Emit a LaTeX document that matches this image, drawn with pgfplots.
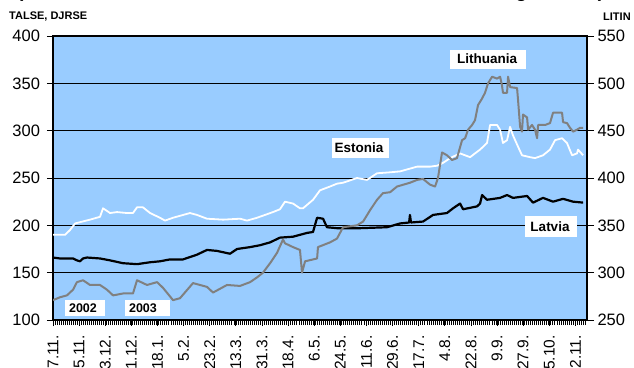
\documentclass[border=0pt]{standalone}
\usepackage{pgfplots}
\pgfplotsset{compat=1.18}
\usepackage{fontspec}
\setmainfont{Liberation Sans}

\definecolor{bg}{RGB}{153,204,255}
\definecolor{ltgray}{RGB}{128,128,128}

% Estonia (TALSE) and Latvia (DJRSE), left scale
\pgfplotstableread{
d v
0 190
8.3 190
11.7 195
15.2 202
25.5 206
32.4 209
34.5 218
39.3 213
44.1 214
51 213
55.1 213
57.9 219
62 219
66.9 213
73.7 208
77.2 205
82.7 208
94.4 213
99.2 211
106.1 207
117.2 206
128.9 207
133.7 205
140.6 208
151.6 214
156.4 217
159.9 225
165.4 223
170.2 218
172.3 218
179.2 227
184 237
190.9 241
195.7 244
199.9 245
209.5 250
216.4 248
223.3 255
232.3 256
239.2 257
250.9 262
259.8 262
264.7 263
268.8 266
273.6 271
280.5 276
287.4 272
294.3 280
299.1 287
301.2 306
306 306
308.1 301
310.1 287
312.9 290
315 304
317 295
320.5 283
323.2 274
328.7 272
332.2 271
337.7 274
342.5 280
346 290
350.8 292
354.2 287
357.7 274
361.1 276
361.8 280
365.3 274
}\estonia

\pgfplotstableread{
d v
0 166
4.8 165
13.8 165
16.5 163
18.6 162
20.7 165
23.4 166
32.4 165
39.3 163
48.2 160
57.9 159
66.9 161
73.7 162
80.6 164
89.6 164
99.2 169
106.1 174
113 173
122 170
126.8 175
135.8 177
142.7 179
149.6 182
156.4 187
165.4 188
175.1 192
179.2 193
182 208
186.1 207
188.8 198
195.7 197
211.6 197
230.2 198
239.2 202
245.4 203
246 211
246.7 203
255 204
261.9 211
271.5 213
275.7 218
280.5 223
282.6 217
292.2 220
294.3 223
295.7 232
299.1 227
308.1 229
312.9 232
317 229
326.7 231
330.8 224
337.7 229
344.6 225
351.5 228
358.4 225
365.3 224
}\latvia

% Lithuania (LITIN), right scale
\pgfplotstableread{
d v
0 271
4.8 274
9.6 276
13.8 282
16.5 290
20.7 292
25.5 287
32.4 287
37.2 282
41.4 276
48.2 278
55.1 278
57.9 292
64.8 287
71.7 290
75.8 284
82.7 271
87.5 273
96.5 289
106.1 285
110.3 279
119.9 287
128.9 286
135.8 290
140.6 295
144.7 300
149.6 310
154.4 321
158.5 335
159.9 331
165.4 327
170.2 324
171.6 300
173.7 312
182 315
182.6 327
190.9 332
195.7 336
199.9 348
209.5 350
213.7 354
218.5 366
223.3 377
227.4 384
232.3 385
237.1 391
246 395
250.9 398
255 399
259.8 393
263.3 391
265.3 400
268.1 427
271.5 424
275 419
278.4 421
281.9 440
284 442
286 451
288.8 456
290.8 461
292.9 477
295.7 484
297.7 490
299.8 500
302.6 507
306 505
308.1 507
309.4 498
310.1 490
312.9 490
313.6 507
315 496
319.8 495
320.5 482
321.9 454
323.2 449
323.9 467
326.7 464
327.4 451
330.1 456
332.2 451
333.6 442
334.3 456
339.1 456
342.5 458
344.6 469
350.8 469
351.5 459
354.2 458
356.3 453
358.4 449
361.1 451
363.2 453
365.3 453
}\lithuania

\begin{document}
\begin{tikzpicture}
\pgfplotsset{
  every axis/.append style={
    scale only axis, width=534pt, height=284pt,
    at={(0,0)}, anchor=south west,
    xmin=0, xmax=368,
    tick align=outside,
    tick style={black, line width=0.8pt},
    tick label style={font=\fontsize{16.5}{18}\selectfont},
    /pgf/number format/assume math mode=true,
    major tick length=7pt,
  },
}
\begin{axis}[
  ymin=100, ymax=400,
  ytick={100,150,...,400},
  ytick pos=left,
  major tick length=6pt,
  yticklabel style={xshift=-3.5pt},
  ymajorgrids,
  major grid style={black, line width=0.8pt},
  axis background/.style={fill=bg},
  axis line style={black, line width=1.2pt},
  xtick={0,18,...,360},
  xtick pos=bottom,
  xticklabels={7.11.,25.11.,13.12.,31.12.,18.1.,5.2.,23.2.,13.3.,31.3.,18.4.,6.5.,24.5.,11.6.,29.6.,17.7.,4.8.,22.8.,9.9.,27.9.,15.10.,2.11.},
  xticklabel shift=8pt,
  xticklabel style={rotate=90, anchor=east, inner xsep=1pt, inner ysep=0pt,
    font=\fontsize{15.5}{16}\selectfont},
  minor xtick={0,1.4,...,368},
  minor tick length=5pt,
  minor tick style={black, line width=0.6pt},
]
\addplot[white, line width=1.8pt, line join=round, no marks] table[x=d, y=v] {\estonia};
\addplot[black, line width=2.2pt, line join=round, no marks] table[x=d, y=v] {\latvia};
\end{axis}
\begin{axis}[
  ymin=250, ymax=550,
  ytick={250,300,...,550},
  axis y line*=right,
  axis x line=none,
  axis line style={black, line width=1.2pt},
]
\addplot[ltgray, line width=2pt, line join=round, no marks] table[x=d, y=v] {\lithuania};
\end{axis}

% scale titles and labels
\node[anchor=west, font=\fontsize{11}{12}\selectfont\bfseries, inner sep=0pt] at (-44pt,303pt) {TALSE, DJRSE};
\node[anchor=west, font=\fontsize{11}{12}\selectfont\bfseries, inner sep=0pt] at (550pt,303pt) {LITIN};
\node[anchor=base west, font=\fontsize{19}{21}\selectfont\bfseries, inner sep=0pt] at (-36pt,322pt) {(Estonia and Latvia on the left scale, Lithuania on the right scale)};

\fill[white] (397pt,251pt) rectangle (473pt,270pt);
\node[font=\fontsize{13.5}{14}\selectfont\bfseries] at (434pt,261pt) {Lithuania};
\fill[white] (279pt,162pt) rectangle (336pt,182pt);
\node[font=\fontsize{13.5}{14}\selectfont\bfseries] at (306pt,172pt) {Estonia};
\fill[white] (472pt,83pt) rectangle (524pt,104pt);
\node[font=\fontsize{13.5}{14}\selectfont\bfseries] at (497pt,93pt) {Latvia};
\fill[white] (12pt,4pt) rectangle (52pt,20pt);
\node[font=\fontsize{12.5}{13}\selectfont\bfseries] at (30pt,12pt) {2002};
\fill[white] (72pt,4pt) rectangle (117pt,20pt);
\node[font=\fontsize{12.5}{13}\selectfont\bfseries] at (90pt,12pt) {2003};

\pgfresetboundingbox
\useasboundingbox (-53pt,-47pt) rectangle (581pt,320pt);
\end{tikzpicture}
\end{document}
